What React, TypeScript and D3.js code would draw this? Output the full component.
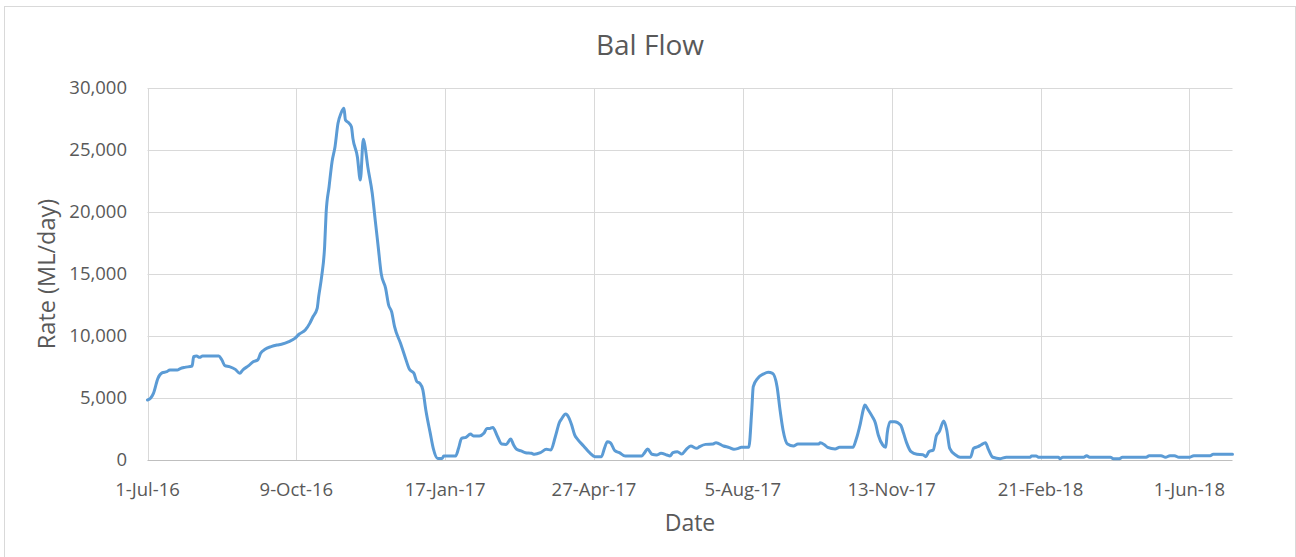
import React from "react";
import * as d3 from "d3";

// Days since 1-Jul-2016 and flow (ML/day)
const dayOffsets: number[] = [
  0, 2, 4, 7, 10, 13, 15, 20, 22, 25, 30, 31, 33, 35, 37, 48, 50, 52, 55, 59,
  62, 64, 68, 71, 74, 76, 79, 83, 87, 90, 95, 99, 102, 106, 109, 111, 114, 115, 117, 119,
  120, 122, 124, 126, 128, 130, 132, 133, 135, 137, 138, 141, 143, 145, 146, 148, 151, 153, 155, 157,
  160, 162, 164, 166, 170, 173, 176, 179, 181, 183, 185, 187, 190, 192, 195, 198, 199, 207, 209, 211,
  214, 217, 219, 223, 226, 228, 230, 232, 235, 238, 241, 244, 246, 248, 251, 254, 258, 260, 264, 268,
  271, 274, 277, 278, 281, 283, 285, 287, 289, 293, 297, 301, 305, 307, 309, 311, 314, 317, 321, 332,
  334, 336, 339, 342, 345, 349, 351, 353, 356, 359, 362, 365, 369, 371, 375, 380, 382, 387, 391, 394,
  397, 399, 404, 406, 407, 410, 414, 417, 420, 423, 425, 427, 430, 434, 437, 451, 452, 455, 457, 462,
  465, 474, 476, 479, 481, 482, 484, 487, 489, 491, 494, 496, 497, 499, 502, 506, 508, 510, 513, 517,
  521, 523, 525, 528, 530, 532, 535, 537, 539, 543, 546, 553, 555, 558, 560, 563, 565, 568, 573, 577,
  593, 594, 597, 599, 612, 613, 615, 629, 631, 633, 647, 649, 653, 655, 671, 673, 681, 684, 687, 690,
  693, 700, 703, 714, 716, 729,
];

const flowValues: number[] = [
  4840, 4980, 5380, 6590, 7040, 7120, 7260, 7260, 7370, 7470, 7580, 8330, 8390, 8280, 8390, 8390, 8060, 7610, 7530, 7310,
  6990, 7260, 7610, 7930, 8060, 8600, 8930, 9140, 9270, 9330, 9540, 9810, 10160, 10480, 11020, 11510, 12230, 13170, 14790, 17200,
  19890, 22040, 24060, 25270, 27150, 27960, 28360, 27420, 27210, 26880, 25940, 24460, 22580, 25860, 25400, 23660, 21510, 19350, 17200, 15050,
  13840, 12500, 11960, 10750, 9410, 8330, 7310, 6990, 6320, 6180, 5650, 4030, 2150, 940, 130, 130, 320, 320, 940, 1750,
  1830, 2100, 1940, 1940, 2150, 2550, 2550, 2630, 1940, 1290, 1260, 1690, 1210, 860, 730, 590, 540, 460, 590, 860,
  810, 1880, 3090, 3280, 3710, 3440, 2820, 2020, 1670, 1130, 590, 270, 270, 940, 1480, 1400, 750, 590, 320, 320,
  590, 890, 460, 400, 540, 400, 320, 590, 670, 480, 860, 1130, 940, 1080, 1260, 1290, 1400, 1130, 1000, 860,
  940, 1020, 1020, 4030, 5910, 6590, 6940, 7070, 6990, 5910, 4030, 2420, 1290, 1130, 1290, 1290, 1400, 1210, 1020, 890,
  1020, 1020, 1610, 2960, 4090, 4440, 4090, 3500, 3010, 2020, 1210, 1020, 2150, 3090, 3090, 2820, 2150, 1400, 670, 460,
  430, 270, 670, 810, 1940, 2290, 3150, 2420, 940, 400, 220, 220, 940, 1080, 1210, 1400, 860, 220, 110, 220,
  220, 320, 320, 220, 220, 110, 220, 220, 350, 220, 220, 110, 110, 220, 220, 350, 350, 220, 350, 350,
  220, 220, 350, 350, 460, 460,
];

const startDate = new Date(2016, 6, 1);
const endDate = new Date(2018, 5, 30);
const xTickStepDays = 100;
const yTicks: number[] = [0, 5000, 10000, 15000, 20000, 25000, 30000];
const titleText = "Bal Flow";
const xTitle = "Date";
const yTitle = "Rate (ML/day)";

const W = 1296;
const H = 557;
const M = { left: 147.5, right: 1232.5, top: 88, bottom: 460 };
const FONT = "'Open Sans', 'Noto Sans', sans-serif";
const TEXT = "#595959";
const GRID = "#D9D9D9";

export default function App() {
  const x = d3.scaleTime().domain([startDate, endDate]).range([M.left, M.right]);
  const y = d3.scaleLinear().domain([0, 30000]).range([M.bottom, M.top]);

  const data = dayOffsets.map((d, i) => ({
    date: d3.timeDay.offset(startDate, d),
    v: flowValues[i],
  }));

  const xTicks: Date[] = [];
  for (let k = 0; ; k++) {
    const t = d3.timeDay.offset(startDate, k * xTickStepDays);
    if (t > endDate) break;
    xTicks.push(t);
  }
  const fmtX = d3.timeFormat("%-d-%b-%y");
  const fmtY = d3.format(",");

  const line = d3
    .line<{ date: Date; v: number }>()
    .x((d) => x(d.date))
    .y((d) => y(d.v))
    .curve(d3.curveMonotoneX);

  return (
    <svg
      width={W}
      height={H}
      style={{ position: "absolute", left: 0, top: 0, background: "#fff" }}
      fontFamily={FONT}
    >
      <rect x={4.5} y={6.5} width={1291} height={570} fill="#fff" stroke={GRID} strokeWidth={1} />
      <text x={650} y={55} textAnchor="middle" fontSize={28} fill={TEXT}>
        {titleText}
      </text>
      {yTicks.map((t) => (
        <line key={"gy" + t} x1={M.left} x2={M.right} y1={Math.round(y(t)) + 0.5} y2={Math.round(y(t)) + 0.5} stroke={t === 0 ? "#BFBFBF" : GRID} strokeWidth={1} />
      ))}
      {xTicks.map((t, i) => (
        <line key={"gx" + i} x1={Math.round(x(t)) + 0.5} x2={Math.round(x(t)) + 0.5} y1={M.top} y2={M.bottom} stroke={GRID} strokeWidth={1} />
      ))}
      {yTicks.map((t) => (
        <text key={"ly" + t} x={127} y={y(t)} dy="0.35em" textAnchor="end" fontSize={18.5} fill={TEXT}>
          {fmtY(t)}
        </text>
      ))}
      {xTicks.map((t, i) => (
        <text key={"lx" + i} x={x(t)} y={496} textAnchor="middle" fontSize={18.5} fill={TEXT}>
          {fmtX(t)}
        </text>
      ))}
      <path d={line(data) || ""} fill="none" stroke="#5B9BD5" strokeWidth={3} strokeLinejoin="round" strokeLinecap="round" />
      <text x={690} y={531} textAnchor="middle" fontSize={23} fill={TEXT}>
        {xTitle}
      </text>
      <text transform="translate(55,274) rotate(-90)" textAnchor="middle" fontSize={23.5} fill={TEXT}>
        {yTitle}
      </text>
    </svg>
  );
}
